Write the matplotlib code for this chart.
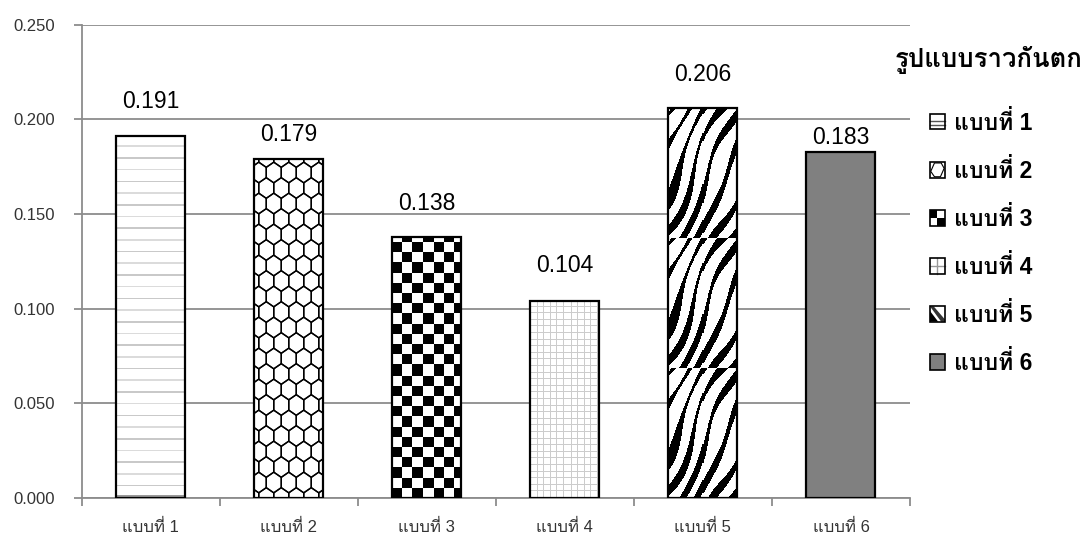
import matplotlib
matplotlib.use("Agg")
import matplotlib.pyplot as plt
import numpy as np
from matplotlib import font_manager
from matplotlib.ft2font import FT2Font
from matplotlib.patches import Patch, Rectangle, Polygon
from matplotlib.lines import Line2D
from matplotlib.collections import PolyCollection
from matplotlib.legend_handler import HandlerBase

# ข้อมูลจากกราฟ
categories = ["แบบที่ 1", "แบบที่ 2", "แบบที่ 3", "แบบที่ 4", "แบบที่ 5", "แบบที่ 6"]
values = [0.191, 0.179, 0.138, 0.104, 0.206, 0.183]
yticks = [0.000, 0.050, 0.100, 0.150, 0.200, 0.250]
legend_title = "รูปแบบราวกันตก"

# ระยะห่างป้ายตัวเลขเหนือแท่ง (px) - วางเองในต้นฉบับ
label_gap_px = [28, 18, 27, 29, 27, 8]

# หาฟอนต์ที่มีอักษรไทย
thai_font = None
for fe in font_manager.fontManager.ttflist:
    try:
        if 0x0E41 in FT2Font(fe.fname).get_charmap():
            thai_font = fe.name
            break
    except Exception:
        pass
fams = ["Liberation Sans"] + ([thai_font] if thai_font else []) + ["DejaVu Sans"]
plt.rcParams["font.family"] = fams

grey = "#8c8c8c"

fig = plt.figure(figsize=(10.88, 5.41), dpi=100)
ax = fig.add_axes([81.7 / 1088, 1 - 498 / 541, (910 - 81.7) / 1088, (498 - 24.7) / 541])
ax.set_xlim(-0.5, 5.5)
ax.set_ylim(0, 0.25)

# เส้นกริดและแกน
ax.set_yticks(yticks)
ax.set_yticklabels([f"{t:.3f}" for t in yticks])
ax.yaxis.grid(True, color=grey, lw=1.3)
ax.set_axisbelow(True)
for s in ["top", "right"]:
    ax.spines[s].set_visible(False)
for s in ["left", "bottom"]:
    ax.spines[s].set_color(grey)
    ax.spines[s].set_linewidth(1.3)
ax.tick_params(axis="y", direction="out", length=6, width=1.3, color=grey,
               labelsize=12, labelcolor="#333333", pad=13)
ax.set_xticks(np.arange(-0.5, 6, 1))
ax.set_xticklabels([])
ax.set_xticks(range(6), minor=True)
ax.set_xticklabels(categories, minor=True)
ax.tick_params(axis="x", which="major", direction="out", length=6, width=1.3, color=grey)
ax.tick_params(axis="x", which="minor", length=0, labelsize=12, labelcolor="#333333", pad=15)

bars = ax.bar(range(6), values, width=0.5, facecolor="white", edgecolor="none", zorder=3)
bars[5].set_facecolor("#808080")

# ขนาดพิกเซลต่อหน่วยข้อมูล
p0 = ax.transData.transform((0, 0))
p1 = ax.transData.transform((1, 0.25))
px_x = p1[0] - p0[0]
px_y = (p1[1] - p0[1]) / 0.25


def texture(kind, w, h):
    u = np.arange(w)[None, :] + 0.5
    v = np.arange(h)[:, None] + 0.5
    img = np.ones((h, w))
    if kind == "lines":
        sp = 11.7
        on = (v % sp) < 1.6
        shade = np.where((v // sp) % 2 == 0, 0.86, 0.79)
        img = np.where(on, shade, 1.0) * np.ones((h, w))
        img[:3, :] = 0.6
    elif kind == "checker":
        c = 10.2
        img = np.where(((u // c) + (v // c)) % 2 == 0, 0.0, 1.0)
    elif kind == "grid":
        sp = 6.6
        img = np.where(((u % sp) < 1.1) | ((v % sp) < 1.1), 0.8, 1.0)
    elif kind == "zebra":
        vv = v % 130
        th = np.deg2rad(66)
        n = -u * np.sin(th) + vv * np.cos(th)
        warp = 1.8 * np.sin(2 * np.pi * vv / 130) + 0.9 * np.sin(2 * np.pi * u / 55)
        f = np.sin(2 * np.pi * n / 15.0 + warp)
        thr = 0.38 - 0.45 * np.sin(2 * np.pi * (u + vv) / 160)
        img = np.where(f > thr, 0.0, 1.0)
    return np.dstack([img, img, img])


kinds = ["lines", "hex", "checker", "grid", "zebra", None]
for b, kind in zip(bars, kinds):
    if kind is None:
        continue
    x0 = b.get_x()
    bw = b.get_width()
    bh = b.get_height()
    if kind == "hex":
        w, sp_r = 15.0, 15.5
        ry = sp_r / 1.5
        offs = np.array([(0, ry), (w / 2, ry / 2), (w / 2, -ry / 2),
                         (0, -ry), (-w / 2, -ry / 2), (-w / 2, ry / 2)])
        polys = []
        wpx = bw * px_x
        hpx = bh * px_y
        for r in range(int(hpx / sp_r) + 3):
            cy = r * sp_r
            shift = (w / 2) * (r % 2) - 3
            for cidx in range(-1, int(wpx / w) + 3):
                cx = cidx * w + shift
                pts = offs + (cx, cy)
                polys.append(np.column_stack([x0 + pts[:, 0] / px_x, pts[:, 1] / px_y]))
        pc = PolyCollection(polys, facecolors="none", edgecolors="black",
                            linewidths=1.0, zorder=3.5)
        ax.add_collection(pc)
        pc.set_clip_path(b)
    else:
        w = int(round(bw * px_x))
        h = int(round(bh * px_y))
        im = ax.imshow(texture(kind, w, h), extent=(x0, x0 + bw, 0, bh), origin="lower",
                       aspect="auto", interpolation="nearest", zorder=3.5)
        im.set_clip_path(b)

# ขอบแท่ง
ax.bar(range(6), values, width=0.5, facecolor="none", edgecolor="black", lw=1.6, zorder=4)
ax.set_xlim(-0.5, 5.5)
ax.set_ylim(0, 0.25)

# ป้ายค่า
for i, (v, g) in enumerate(zip(values, label_gap_px)):
    ax.annotate(f"{v:.3f}", (i, v), xytext=(0, g / 1.389), textcoords="offset points",
                ha="center", va="baseline", fontsize=16.5, color="black")


# ไอคอนคำอธิบาย
class IconHandler(HandlerBase):
    def __init__(self, kind):
        super().__init__()
        self.kind = kind

    def create_artists(self, legend, orig_handle, xd, yd, width, height, fontsize, trans):
        x0, y0 = -xd, -yd

        def P(fx, fy):
            return (x0 + fx * width, y0 + fy * height)

        arts = []
        face = "#808080" if self.kind == 6 else "white"
        arts.append(Rectangle((x0, y0), width, height, facecolor=face, edgecolor="none", transform=trans))
        if self.kind == 1:
            for fy in (0.3, 0.55):
                a, b = P(0, fy), P(1, fy)
                arts.append(Line2D([a[0], b[0]], [a[1], b[1]], color="#555555", lw=1.0, transform=trans))
        elif self.kind == 2:
            pts = [P(0.3, 0.05), P(0.05, 0.4), P(0.3, 0.95), P(0.75, 0.95), P(0.95, 0.6), P(0.7, 0.05)]
            arts.append(Polygon(pts, closed=True, facecolor="none", edgecolor="black", lw=0.8, transform=trans))
        elif self.kind == 3:
            for fx, fy in ((0, 0.5), (0.5, 0)):
                arts.append(Rectangle(P(fx, fy), width / 2, height / 2, facecolor="black",
                                      edgecolor="none", transform=trans))
        elif self.kind == 4:
            for a, b in ((P(0.5, 0), P(0.5, 1)), (P(0, 0.5), P(1, 0.5))):
                arts.append(Line2D([a[0], b[0]], [a[1], b[1]], color="#999999", lw=1.0, transform=trans))
        elif self.kind == 5:
            arts.append(Polygon([P(0, 0), P(0.55, 0), P(0, 0.7)], closed=True,
                                facecolor="black", edgecolor="none", transform=trans))
            arts.append(Polygon([P(0.75, 0), P(1, 0), P(1, 0.15), P(0.25, 1), P(0, 1)], closed=True,
                                facecolor="#333333", edgecolor="none", transform=trans))
        arts.append(Rectangle((x0, y0), width, height, facecolor="none", edgecolor="black",
                              lw=1.2, transform=trans))
        return arts


handles = [Patch() for _ in categories]
hmap = {h: IconHandler(k + 1) for k, h in enumerate(handles)}

fig.text(989 / 1088, 1 - 60 / 541, legend_title, ha="center", va="center",
         fontsize=18.5, fontweight="bold")
fig.legend(handles, categories, loc="center left",
           bbox_to_anchor=(930 / 1088, 1 - 243 / 541), frameon=False,
           prop={"size": 16.5, "weight": "bold"}, borderpad=0, borderaxespad=0,
           handlelength=0.65, handleheight=0.65, handletextpad=0.4, labelspacing=1.05,
           handler_map=hmap)

fig.savefig("out.png", dpi=100)
